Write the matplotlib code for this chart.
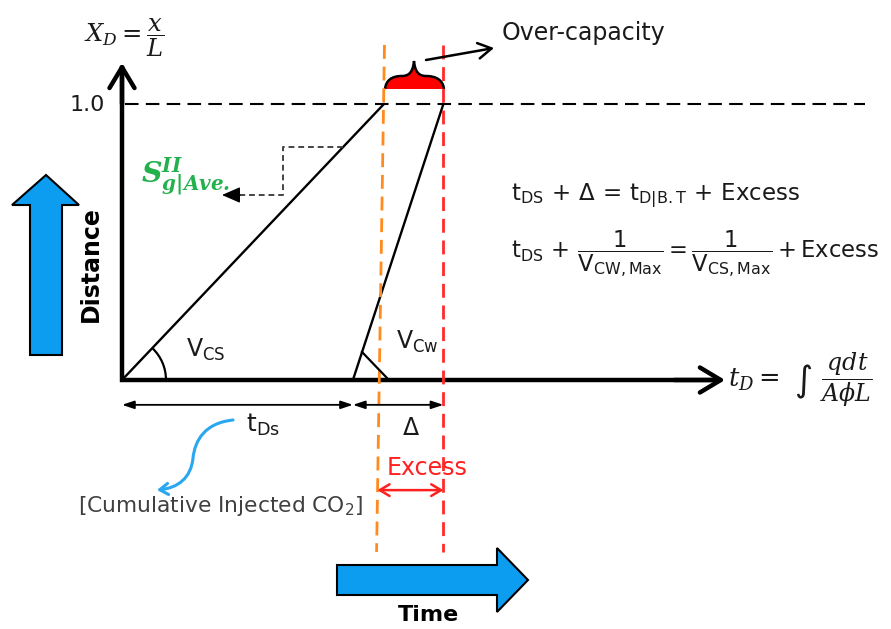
import matplotlib.pyplot as plt
from matplotlib.patches import Polygon, PathPatch, Arc, FancyArrowPatch
from matplotlib.path import Path
from matplotlib.transforms import Affine2D

plt.rcParams['mathtext.fontset'] = 'custom'
plt.rcParams['mathtext.rm'] = 'DejaVu Sans'
plt.rcParams['mathtext.it'] = 'DejaVu Serif:italic'
plt.rcParams['mathtext.bf'] = 'DejaVu Sans:bold'
plt.rcParams['mathtext.bfit'] = 'DejaVu Serif:italic:bold'

# schematic values, dimensionless time t_D and distance X_D
t_ds = 0.996                 # CO2 front (slope V_CS) reaches X_D = 1
t_cw = [0.878, 1.222]        # start / end of the V_CW front
xd_front = [0.0, 1.0]        # both fronts run from X_D = 0 to 1
t_orange = [0.998, 0.968]    # orange dashed guide, top / bottom
t_red = 1.222                # red dashed guide (breakthrough)

fig = plt.figure(figsize=(8.91, 6.29), dpi=100)
ax = fig.add_axes([0, 0, 1, 1])
ax.set_xlim(-122 / 263, 769 / 263)
ax.set_ylim(-249 / 276, 380 / 276)
ax.axis('off')

# figure pixels (y down) for the loose annotations
pix = Affine2D().scale(1 / 891, -1 / 629).translate(0, 1) + fig.transFigure

ink = '#1a1a1a'
blue = '#0c9cf0'

# axes
ax.plot([0, 0, 2.26], [1.13, 0, 0], color='k', lw=3.2, solid_joinstyle='miter')
head = dict(arrowstyle='->,head_length=0.75,head_width=0.45', lw=3.2,
            color='k', shrinkA=0, shrinkB=0, mutation_scale=20)
ax.annotate('', xy=(0, 1.149), xytext=(0, 1.0), arrowprops=head)
ax.annotate('', xy=(2.293, 0), xytext=(2.1, 0), arrowprops=head)

# X_D = 1 line
ax.plot([0.012, 2.825], [1, 1], color='k', lw=1.5, dashes=(6.5, 3.5))

# fronts
ax.plot([0, t_ds], xd_front, color='k', lw=1.7)
ax.plot(t_cw, xd_front, color='k', lw=1.7)

# guide lines
ax.plot(t_orange, [1.214, -0.623], color='#ff8a1e', lw=2, dashes=(5, 2.8))
ax.plot([t_red, t_red], [1.214, -0.623], color='#ff2a2a', lw=2, dashes=(5, 2.8))

# angle marks
ax.add_patch(Arc((122, 380), 88, 88, theta1=-46.5, theta2=0, transform=pix,
                 color='k', lw=1.6))
ax.plot([362, 387], [352, 378], color='k', lw=1.6, transform=pix)

# dimension arrows under the axis
dim = dict(arrowstyle='<|-|>,head_length=0.6,head_width=0.2', lw=1.3,
           color='k', shrinkA=0, shrinkB=0, mutation_scale=12)
ax.annotate('', xy=(0, -0.09), xytext=(t_cw[0], -0.09), arrowprops=dim)
ax.annotate('', xy=(t_cw[0], -0.09), xytext=(t_red, -0.09), arrowprops=dim)
ax.annotate('', xy=(t_orange[1] + 0.003, -0.399), xytext=(t_red, -0.399),
            arrowprops=dict(arrowstyle='<->,head_length=0.5,head_width=0.3',
                            lw=1.8, color='#ff2020', shrinkA=0, shrinkB=0,
                            mutation_scale=14))

# over-capacity brace
verts = [(385, 89), (386, 80), (392, 76), (402, 76), (409, 76), (413, 72), (414, 61),
         (415, 72), (419, 76), (426, 76), (436, 76), (443, 80), (444, 89), (385, 89)]
codes = [Path.MOVETO] + [Path.CURVE4] * 12 + [Path.CLOSEPOLY]
ax.add_patch(PathPatch(Path(verts, codes), facecolor='#ff0000', edgecolor='none',
                       transform=pix))
ax.add_patch(PathPatch(Path(verts[:-1], codes[:-1]), facecolor='none',
                       edgecolor='k', lw=1.8, transform=pix))
ax.annotate('', xy=(494, 48), xytext=(426, 60), xycoords=pix, textcoords=pix,
            arrowprops=dict(arrowstyle='->,head_length=0.6,head_width=0.35',
                            lw=1.8, color='k', mutation_scale=16,
                            shrinkA=0, shrinkB=0))
ax.text(502, 33, 'Over-capacity', transform=pix, fontsize=17, color=ink,
        ha='left', va='center')

# saturation read-off
ax.plot([343, 283, 283, 238], [147, 147, 195, 195], color='#444444', lw=1.4,
        dashes=(3, 2), transform=pix)
ax.annotate('', xy=(222, 195), xytext=(240, 195), xycoords=pix, textcoords=pix,
            arrowprops=dict(arrowstyle='-|>,head_length=0.8,head_width=0.35',
                            lw=1, color='k', mutation_scale=14,
                            shrinkA=0, shrinkB=0))
ax.text(141, 176, r'$\mathbfit{S}_{\mathbfit{g|Ave.}}^{\mathbfit{II}}$', transform=pix,
        fontsize=20.5, color='#22b14c', ha='left', va='center')

# axis labels
ax.text(84, 38, r'$X_D=\dfrac{x}{L}$', transform=pix, fontsize=17.5, color=ink,
        ha='left', va='center')
ax.text(728, 380, r'$t_D=$', transform=pix, fontsize=18.5, color=ink,
        ha='left', va='center')
ax.text(794, 382, r'$\int$', transform=pix, fontsize=25, color=ink,
        ha='left', va='center')
ax.text(820, 380, r'$\dfrac{qdt}{A\phi L}$', transform=pix, fontsize=17,
        color=ink, ha='left', va='center')
ax.text(105, 105, '1.0', transform=pix, fontsize=16, color=ink, ha='right',
        va='center')

# front labels
ax.text(186, 357, r'$\mathrm{V_{CS}}$', transform=pix, fontsize=17, color=ink,
        ha='left', va='baseline')
ax.text(396, 349, r'$\mathrm{V_{Cw}}$', transform=pix, fontsize=17, color=ink,
        ha='left', va='baseline')
ax.text(246, 432, r'$\mathrm{t_{Ds}}$', transform=pix, fontsize=18, color=ink,
        ha='left', va='baseline')
ax.text(411, 435, r'$\Delta$', transform=pix, fontsize=17, color=ink,
        ha='center', va='baseline')
ax.text(427, 475, 'Excess', transform=pix, fontsize=17, color='#ff2020',
        ha='center', va='baseline')

# equations
ax.text(511, 196, r'$\mathrm{t_{DS}}\,+\,\Delta\,=\,\mathrm{t_{D|B.T}}\,+\,\mathrm{Excess}$',
        transform=pix, fontsize=16.5, color=ink, ha='left', va='center')
ax.text(511, 254, r'$\mathrm{t_{DS}}\,+\,\dfrac{1}{\mathrm{V_{CW,Max}}} = '
        r'\dfrac{1}{\mathrm{V_{CS,Max}}}+\mathrm{Excess}$',
        transform=pix, fontsize=16.3, color=ink, ha='left', va='center')

# cumulative injection note
curve = Path([(233, 420), (205, 423), (195, 440), (193, 458),
              (191, 478), (178, 488), (157, 490)],
             [Path.MOVETO] + [Path.CURVE4] * 6)
ax.add_patch(FancyArrowPatch(path=curve, arrowstyle='->,head_length=6,head_width=4',
                             color='#2aa7f0', lw=2.2, transform=pix))
ax.text(78, 506, r'[Cumulative Injected CO$_2$]', transform=pix, fontsize=15.7,
        color='#404040', ha='left', va='center')

# block arrows
ax.add_patch(Polygon([(30, 355), (62, 355), (62, 205), (79, 205), (46, 175),
                      (12, 205), (30, 205)], closed=True, facecolor=blue,
                     edgecolor='k', lw=1.5, transform=pix))
ax.text(91, 264, 'Distance', transform=pix, fontsize=17, fontweight='bold',
        rotation=90, ha='center', va='center', color='k')
ax.add_patch(Polygon([(337, 565), (497, 565), (497, 548), (528, 580), (497, 612),
                      (497, 595), (337, 595)], closed=True, facecolor=blue,
                     edgecolor='k', lw=1.5, transform=pix))
ax.text(428, 615, 'Time', transform=pix, fontsize=16, fontweight='bold',
        ha='center', va='center', color='k')

fig.savefig('out.png', dpi=100)
